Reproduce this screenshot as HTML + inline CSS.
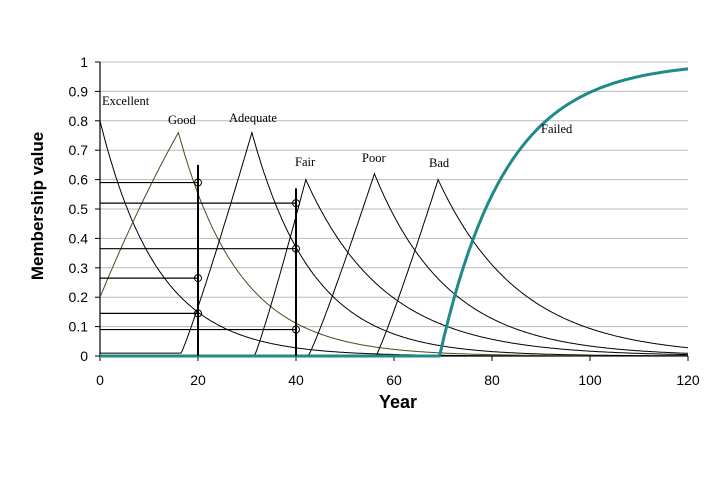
<!DOCTYPE html>
<html><head><meta charset="utf-8"><style>
html,body{margin:0;padding:0;background:#fff;width:720px;height:480px;overflow:hidden}
svg{display:block}
.t{font-family:"Liberation Sans",Arial,sans-serif;font-size:14px;fill:#000}
.s{font-family:"Liberation Serif","Times New Roman",serif;font-size:12.5px;fill:#000}
</style></head><body>
<svg id="c" width="720" height="480" xmlns="http://www.w3.org/2000/svg">
<g id="grid"></g>
<g id="curves" fill="none"></g>
<g id="ann"></g>
<text class="s" x="102" y="105">Excellent</text>
<text class="s" x="168" y="124">Good</text>
<text class="s" x="229" y="122">Adequate</text>
<text class="s" x="295" y="166">Fair</text>
<text class="s" x="362" y="162">Poor</text>
<text class="s" x="429" y="167">Bad</text>
<text class="s" x="541" y="133">Failed</text>
<text x="398" y="408" text-anchor="middle" style="font-family:'Liberation Sans',Arial,sans-serif;font-weight:bold;font-size:18px">Year</text>
<text transform="translate(43,206) rotate(-90)" text-anchor="middle" style="font-family:'Liberation Sans',Arial,sans-serif;font-weight:bold;font-size:17px">Membership value</text>
</svg>
<script>
var X=function(t){return 100+t*4.9},Y=function(v){return 356-v*294};
var NS="http://www.w3.org/2000/svg";
function el(p,n,a,txt){var e=document.createElementNS(NS,n);for(var k in a)e.setAttribute(k,a[k]);if(txt!=null)e.textContent=txt;document.getElementById(p).appendChild(e);return e;}
for(var i=1;i<=10;i++){el('grid','line',{x1:100,x2:688,y1:Y(i/10),y2:Y(i/10),stroke:'#b8b8b8','stroke-width':1});}
el('grid','line',{x1:100,x2:100,y1:Y(1),y2:357,stroke:'#000','stroke-width':1.2});
el('grid','line',{x1:100,x2:688,y1:356,y2:356,stroke:'#000','stroke-width':1.2});
for(var i=0;i<=10;i++){var y=Y(i/10);el('grid','line',{x1:95,x2:100,y1:y,y2:y,stroke:'#000'});
 el('grid','text',{class:'t',x:88,y:y+5,'text-anchor':'end'},i==0?'0':i==10?'1':(i/10).toFixed(1));}
for(var t=0;t<=120;t+=20){var x=X(t);el('grid','line',{x1:x,x2:x,y1:356,y2:361,stroke:'#000'});
 el('grid','text',{class:'t',x:x,y:385,'text-anchor':'middle'},''+t);}
function curve(f,t0,t1,col,w){var d='';for(var t=t0;t<=t1+1e-9;t+=0.25){d+=(d?'L':'M')+X(t).toFixed(1)+','+Y(f(t)).toFixed(1);}
 el('curves','path',{d:d,stroke:col,'stroke-width':w||1});}
function tri(ts,tp,P,k,base){return function(t){if(t<ts)return base||0.003;if(t<=tp){var u=(t-ts)/(tp-ts);return Math.max(base||0.003,P*Math.pow(u,1.1));}return P*Math.exp(-k*(t-tp));};}
curve(function(t){return 0.8*Math.exp(-0.084*t)},0,120,'#000');
curve(function(t){if(t<=16){var u=t/16;return 0.2+0.56*(u*1.15-0.15*u*u);}return 0.76*Math.exp(-0.08*(t-16));},0,120,'#4a4a20');
curve(tri(16.3,31,0.76,0.08,0.01),0,120,'#000');
curve(tri(31.5,42,0.6,0.062),31,120,'#000');
curve(tri(42.5,56,0.62,0.066),42,120,'#000');
curve(tri(56.3,69,0.6,0.06),56,120,'#000');
curve(function(t){return t<69.3?0:1-Math.exp(-0.074*(t-69.3))},0,120,'#1f8a86',3);
function h(v,t){el('ann','line',{x1:100,x2:X(t),y1:Y(v),y2:Y(v),stroke:'#000','stroke-width':1.2});el('ann','circle',{cx:X(t),cy:Y(v),r:3.5,fill:'none',stroke:'#000'});}
h(0.59,20);h(0.265,20);h(0.145,20);h(0.52,40);h(0.365,40);h(0.09,40);
el('ann','line',{x1:X(20),x2:X(20),y1:Y(0.65),y2:356,stroke:'#000','stroke-width':2});
el('ann','line',{x1:X(40),x2:X(40),y1:Y(0.57),y2:356,stroke:'#000','stroke-width':2});
</script>
</body></html>
